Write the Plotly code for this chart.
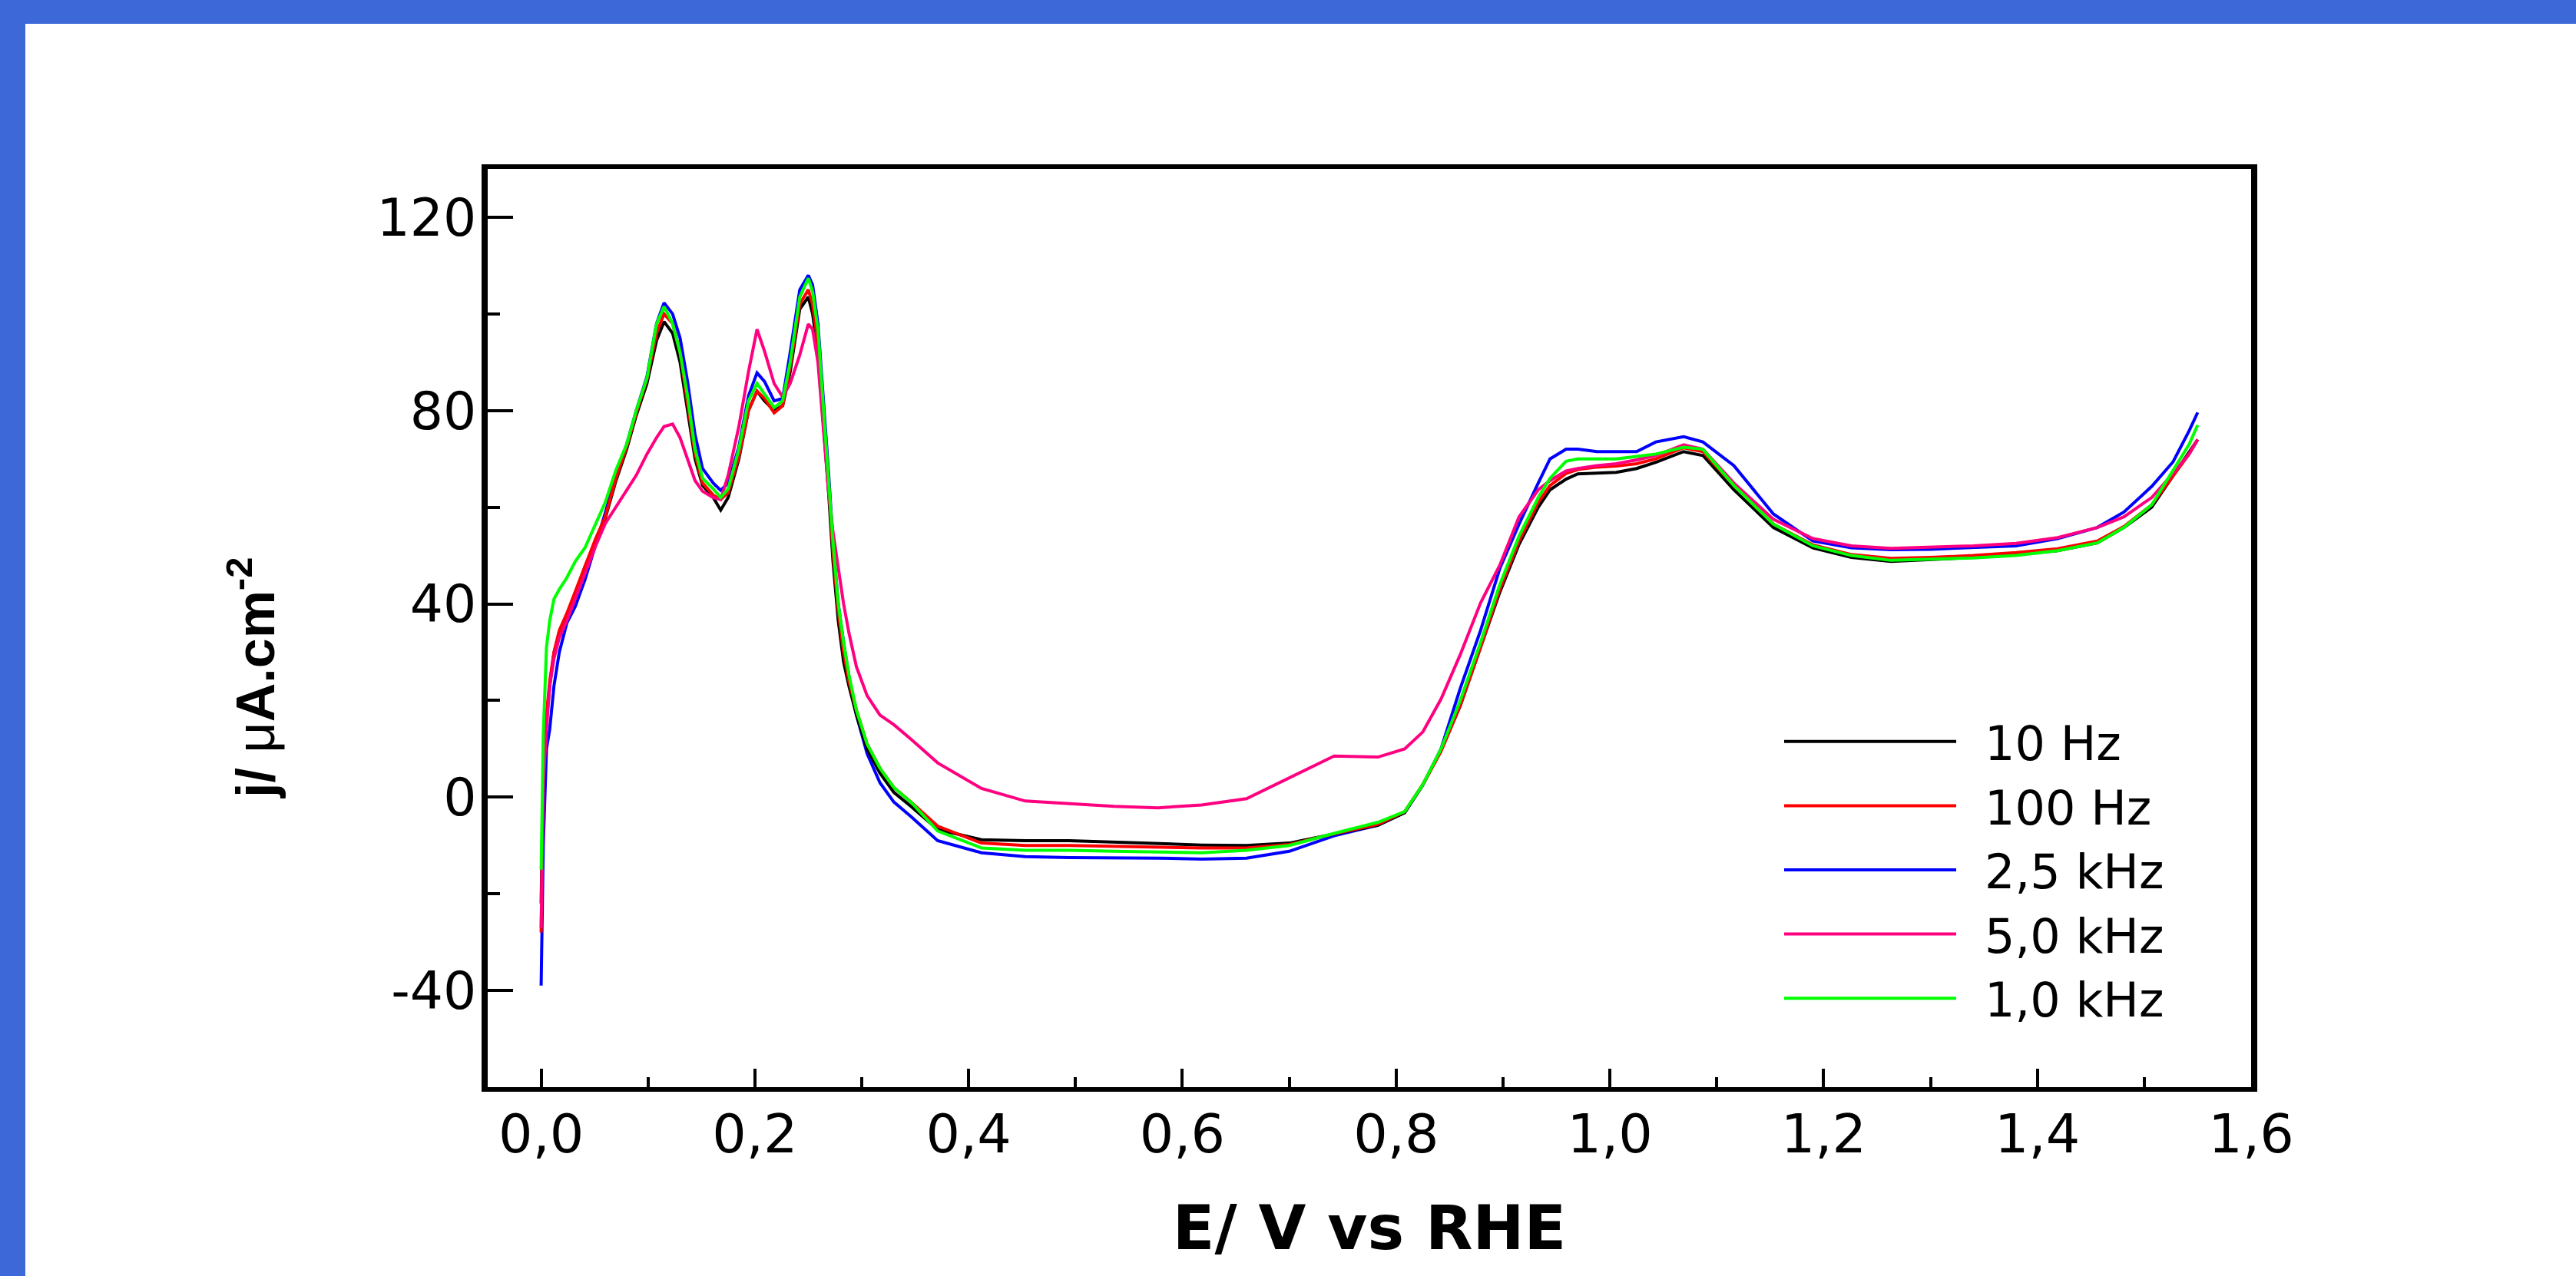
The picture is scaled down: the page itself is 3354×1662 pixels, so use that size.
import plotly.graph_objects as go

# ---------------- data ----------------
potential_V = [
    0.000, 0.002, 0.005, 0.008, 0.012, 0.017, 0.024, 0.032, 0.041, 0.051,
    0.060, 0.070, 0.080, 0.089, 0.099, 0.108, 0.115, 0.123, 0.130, 0.137,
    0.144, 0.151, 0.161, 0.168, 0.175, 0.185, 0.194, 0.202, 0.209, 0.218,
    0.226, 0.233, 0.242, 0.250, 0.254, 0.259, 0.264, 0.269, 0.273, 0.278,
    0.283, 0.288, 0.295, 0.305, 0.317, 0.330, 0.346, 0.371, 0.412, 0.453,
    0.494, 0.536, 0.577, 0.618, 0.660, 0.700, 0.742, 0.783, 0.808, 0.825,
    0.842, 0.860, 0.879, 0.897, 0.915, 0.933, 0.944, 0.959, 0.970, 0.988,
    1.006, 1.025, 1.043, 1.069, 1.087, 1.116, 1.153, 1.190, 1.226, 1.263,
    1.300, 1.340, 1.380, 1.419, 1.456, 1.481, 1.507, 1.527, 1.542, 1.550,
]

j_10Hz = [
    -22, 5, 16, 23, 29.8, 34, 37.6, 42, 47.7, 53,
    57.7, 65.5, 72, 79, 85.6, 94.5, 98.4, 96, 90, 80,
    70, 64.5, 62, 59.4, 62, 70, 80, 84, 82, 80,
    81, 88, 101, 103.5, 100, 92, 78, 63, 49, 36.5,
    28, 23, 17, 10, 5, 1, -1.9, -6.7, -8.8, -9,
    -9, -9.3, -9.6, -9.9, -10, -9.5, -7.6, -5.8, -3.2, 2.6,
    9.7, 18.9, 31, 42.4, 52.3, 60, 63.6, 65.8, 66.9, 67,
    67.2, 68, 69.3, 71.5, 70.7, 63.6, 55.8, 51.6, 49.6, 48.8,
    49.2, 49.6, 50.2, 51, 52.6, 55.8, 60, 66.4, 71.2, 74,
]

j_100Hz = [
    -28, 4, 17, 24, 30, 34.5, 38, 42.5, 48, 53.5,
    58, 66, 72.5, 79.5, 86.5, 96, 100, 98, 92, 82,
    71, 65, 62.5, 61.6, 63, 70.5, 80, 84, 82.5, 79.5,
    81, 89, 102, 105, 102, 94, 80, 65, 51, 38.5,
    30, 24, 18, 11, 6, 2, -1, -6, -9.5, -10,
    -10, -10.2, -10.3, -10.5, -10.5, -9.8, -7.6, -5.6, -3.0, 2.6,
    9.5, 19, 31, 43, 53, 61, 64.5, 67, 67.8, 68.3,
    68.5, 69, 70, 72.3, 71.5, 64.5, 56.5, 52.2, 50.2, 49.4,
    49.6, 50, 50.6, 51.4, 53, 56, 60.5, 66.5, 71, 74,
]

j_2_5kHz = [
    -39, -10, 10, 14, 23, 30, 36, 39.5, 45, 52,
    58.8, 66.6, 73, 80, 87, 98, 102.3, 100, 95, 86,
    75, 68, 65, 63.5, 65, 72.5, 83, 87.8, 86, 82,
    82.5, 92, 105, 108, 106, 98, 83, 67, 53, 40,
    32, 25, 17, 9, 3, -1, -4, -9, -11.5, -12.3,
    -12.5, -12.5, -12.6, -12.8, -12.6, -11.2, -8, -5.8, -3.2, 2.5,
    10, 22.5, 34.5, 47.3, 56.5, 65, 70, 72, 72, 71.5,
    71.5, 71.5, 73.5, 74.6, 73.5, 68.6, 58.6, 53, 51.6, 51.2,
    51.3, 51.7, 52, 53.5, 55.8, 59, 64.3, 69.4, 75.8, 79.6,
]

j_5_0kHz = [
    -27, 3, 14, 23, 28.7, 33, 36.5, 41, 46.5, 52,
    56.6, 60, 63.3, 66.6, 71, 74.4, 76.7, 77.2, 74.4, 70,
    65.5, 63.3, 62, 61.6, 66.6, 76.7, 88, 96.8, 92.3, 85.6,
    82.8, 85.6, 91.5, 97.9, 96.8, 90, 76, 63, 55, 47.7,
    40, 34, 27, 21, 17, 15, 12, 7.1, 1.8, -0.8,
    -1.4, -1.9, -2.2, -1.6, -0.3, 4, 8.5, 8.3, 10, 13.5,
    20.3, 29.5, 40.2, 48, 58, 63.6, 65.5, 67.5, 68, 68.6,
    69, 69.8, 70.7, 72.9, 72, 65, 57.5, 53.5, 52, 51.5,
    51.7, 52, 52.5, 53.7, 55.8, 58, 62, 67, 71, 74,
]

j_1_0kHz = [
    -15, 13, 31, 36.5, 41, 43, 45.4, 48.8, 51.6, 56.6,
    61, 67.7, 73, 80, 86.7, 97.9, 101.5, 98, 92, 83,
    72, 66, 63.8, 62, 63.8, 72, 82, 85.6, 83.4, 80.6,
    82, 90, 103.5, 107.4, 104.6, 96.8, 81, 65.5, 53, 40,
    32, 25.3, 18, 11, 6, 2, -1, -7, -10.5, -11,
    -11, -11.2, -11.3, -11.5, -11, -10, -7.5, -5.2, -3, 2.6,
    10, 20, 32, 44, 54, 62, 66, 69.5, 70, 70,
    70, 70.5, 71, 72.4, 72, 64.5, 56.5, 52, 50, 49,
    49.2, 49.5, 50, 51, 52.6, 55.8, 60.5, 67.5, 73, 77,
]

series_names = ["10 Hz", "100 Hz", "2,5 kHz", "5,0 kHz", "1,0 kHz"]
x_tick_vals = [0.0, 0.2, 0.4, 0.6, 0.8, 1.0, 1.2, 1.4, 1.6]
x_tick_text = ["0,0", "0,2", "0,4", "0,6", "0,8", "1,0", "1,2", "1,4", "1,6"]
y_tick_vals = [-40, 0, 40, 80, 120]
y_tick_text = ["-40", "0", "40", "80", "120"]

# ---------------- figure ----------------
W, H = 3354, 1662
ML, MR, MT, MB = 635, 423, 220, 246
PW, PH = W - ML - MR, H - MT - MB


def px_to_paper_x(px):
    return (px - ML) / PW


def px_to_paper_y(py):
    return (H - MB - py) / PH


series = {
    "10 Hz": (j_10Hz, "#000000", 1),
    "100 Hz": (j_100Hz, "#ff0000", 2),
    "2,5 kHz": (j_2_5kHz, "#0000ff", 3),
    "5,0 kHz": (j_5_0kHz, "#ff0080", 4),
    "1,0 kHz": (j_1_0kHz, "#00ff00", 5),
}
draw_order = ["2,5 kHz", "10 Hz", "100 Hz", "5,0 kHz", "1,0 kHz"]

fig = go.Figure()
for name in draw_order:
    vals, color, rank = series[name]
    fig.add_trace(go.Scatter(
        x=potential_V, y=vals, mode="lines",
        name="\u00a0\u2009" + name,
        line=dict(color=color, width=4), legendrank=rank,
    ))

BLUE = "#3d69d8"
fig.update_layout(
    width=W, height=H,
    margin=dict(l=ML, r=MR, t=MT, b=MB, autoexpand=False),
    paper_bgcolor=BLUE,
    plot_bgcolor="white",
    showlegend=True,
    legend=dict(
        x=px_to_paper_x(2318), xanchor="left",
        y=px_to_paper_y(919), yanchor="top",
        bgcolor="rgba(0,0,0,0)", borderwidth=0,
        font=dict(family="DejaVu Sans", size=62, color="black"),
        itemwidth=224,
    ),
    shapes=[dict(
        type="rect", xref="paper", yref="paper", layer="below",
        x0=px_to_paper_x(33), x1=px_to_paper_x(W + 5),
        y0=px_to_paper_y(H + 5), y1=px_to_paper_y(31),
        fillcolor="white", line=dict(width=0),
    )],
    annotations=[dict(
        xref="paper", yref="paper",
        x=px_to_paper_x(328), y=px_to_paper_y(884),
        xanchor="center", yanchor="middle", textangle=-90, showarrow=False,
        text="<b>j/ </b>μ<b>A.cm</b><sup><b>-2</b></sup>",
        font=dict(family="Liberation Sans", size=70, color="black"),
    )],
)

fig.update_xaxes(
    range=[-0.05, 1.6],
    tickmode="array", tickvals=x_tick_vals, ticktext=x_tick_text,
    ticks="inside", ticklen=24, tickwidth=4, tickcolor="black",
    minor=dict(ticks="inside", ticklen=13, tickwidth=4, tickcolor="black", dtick=0.1, tick0=0),
    showline=True, linewidth=6, linecolor="black", mirror=True,
    showgrid=False, zeroline=False,
    tickfont=dict(family="DejaVu Sans", size=70, color="black"),
    ticklabelstandoff=-5,
    title=dict(text="<b>E/ V vs RHE</b>", standoff=56,
               font=dict(family="DejaVu Sans", size=80, color="black")),
)
fig.update_yaxes(
    range=[-60, 130],
    tickmode="array", tickvals=y_tick_vals, ticktext=y_tick_text,
    ticks="inside", ticklen=33, tickwidth=4, tickcolor="black",
    minor=dict(ticks="inside", ticklen=16, tickwidth=4, tickcolor="black", dtick=20, tick0=0),
    showline=True, linewidth=8, linecolor="black", mirror=True,
    showgrid=False, zeroline=False,
    tickfont=dict(family="DejaVu Sans", size=68, color="black"),
    ticklabelstandoff=-7,
)

fig.write_html("out.html")
